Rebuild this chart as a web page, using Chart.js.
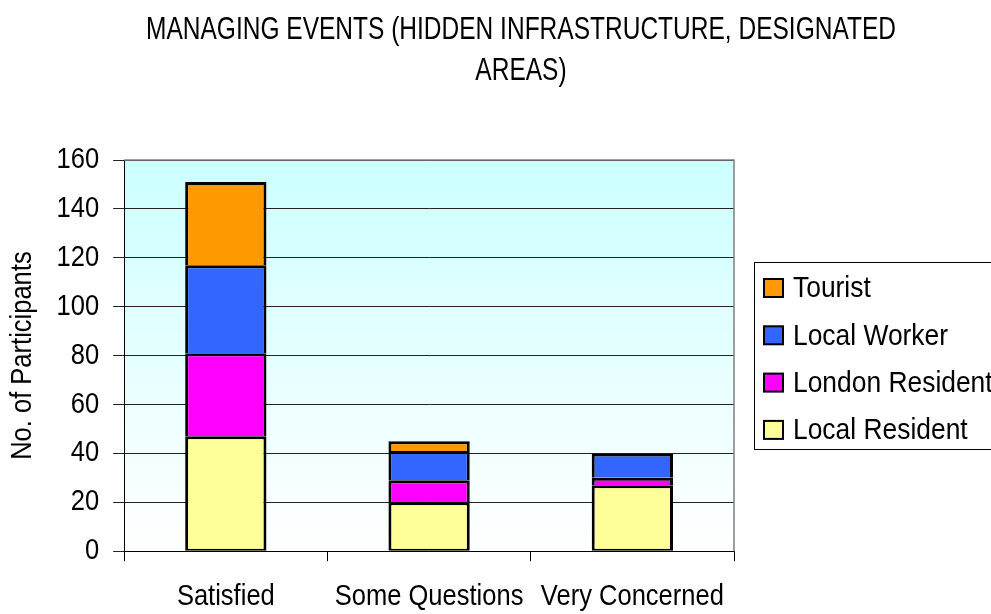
<!DOCTYPE html>
<html>
<head>
<meta charset="utf-8">
<style>
  html, body { margin: 0; padding: 0; background: #fff; overflow: hidden; }
  #wrap { width: 991px; height: 614px; }
</style>
</head>
<body>
<div id="wrap">
  <canvas id="eventsChart" width="991" height="614"></canvas>
</div>

<script src="https://cdn.jsdelivr.net/npm/chart.js"></script>

<script>
  // chart data
  const categories = ['Satisfied', 'Some Questions', 'Very Concerned'];
  const seriesNames = ['Local Resident', 'London Resident', 'Local Worker', 'Tourist'];
  const localResident = [47, 20, 27];
  const londonResident = [34, 9, 3];
  const localWorker = [36, 12, 10];
  const tourist = [34, 4, 0];
  const yTicks = [0, 20, 40, 60, 80, 100, 120, 140, 160];
  const titleLines = ['MANAGING EVENTS (HIDDEN INFRASTRUCTURE, DESIGNATED', 'AREAS)'];

  const seriesColors = ['#FFFF99', '#FF00FF', '#3366FF', '#FF9900'];
  const FONT = "'Liberation Sans', Arial, sans-serif";
  const NARROW = 0.88; // no Arial Narrow here, so squeeze text horizontally

  const canvas = document.getElementById('eventsChart');
  const ctx = canvas.getContext('2d');
  const rawFillText = ctx.fillText.bind(ctx);
  ctx.fillText = function (text, x, y, maxWidth) {
    const w = this.measureText(text).width * NARROW;
    rawFillText(text, x, y, maxWidth === undefined ? w : Math.min(w, maxWidth));
  };

  // plot area: light cyan fading to white, grey frame on top and right
  const plotBackground = {
    id: 'plotBackground',
    beforeDraw(chart) {
      const { ctx, chartArea: a } = chart;
      const g = ctx.createLinearGradient(0, a.top, 0, a.bottom);
      g.addColorStop(0, '#CCFFFF');
      g.addColorStop(1, '#FFFFFF');
      ctx.save();
      ctx.fillStyle = g;
      ctx.fillRect(a.left, a.top, a.right - a.left, a.bottom - a.top);
      ctx.restore();
    },
    afterDatasetsDraw(chart) {
      const { ctx, chartArea: a } = chart;
      ctx.save();
      ctx.strokeStyle = '#808080';
      ctx.lineWidth = 1.5;
      ctx.beginPath();
      ctx.moveTo(a.left, a.top);
      ctx.lineTo(a.right, a.top);
      ctx.lineTo(a.right, a.bottom);
      ctx.stroke();
      ctx.restore();
    }
  };

  // two-line title, centred a little right of the canvas middle like the original
  const chartTitle = {
    id: 'chartTitle',
    afterDraw(chart) {
      const c = chart.ctx;
      c.save();
      c.font = '32px ' + FONT;
      c.fillStyle = '#000';
      c.textAlign = 'center';
      c.textBaseline = 'middle';
      const squeeze = 750 / c.measureText(titleLines[0]).width;
      titleLines.forEach((line, i) => {
        c.fillText(line, 521, 30 + i * 41.5, c.measureText(line).width * squeeze);
      });
      c.restore();
    }
  };

  // boxed legend to the right, reversed order (Tourist first)
  const boxLegend = {
    id: 'boxLegend',
    afterDraw(chart) {
      const { ctx: c, chartArea: a } = chart;
      const sets = chart.data.datasets.slice().reverse();
      const rowH = 47.3;
      const left = a.right + 20;
      const top = 262;
      c.save();
      c.strokeStyle = '#000';
      c.lineWidth = 1;
      c.strokeRect(left + 0.5, top + 0.5, 400, 187);
      c.font = '30px ' + FONT;
      c.textBaseline = 'middle';
      sets.forEach((ds, i) => {
        const cy = top + 26 + rowH * i;
        c.fillStyle = ds.backgroundColor;
        c.fillRect(left + 10, cy - 9, 19, 18);
        c.lineWidth = 2;
        c.strokeStyle = '#000';
        c.strokeRect(left + 10, cy - 9, 19, 18);
        c.fillStyle = '#000';
        c.fillText(ds.label, left + 39, cy + 1);
      });
      c.restore();
    }
  };

  const datasets = [localResident, londonResident, localWorker, tourist].map((vals, i) => ({
    label: seriesNames[i],
    data: vals,
    backgroundColor: seriesColors[i],
    borderColor: '#000000',
    borderWidth: { top: 3, left: 3, right: 3, bottom: i === 0 ? 2 : 0 },
    borderSkipped: false,
    inflateAmount: 0,
    barPercentage: 0.4,
    categoryPercentage: 1.0
  }));

  new Chart(ctx, {
    type: 'bar',
    data: { labels: categories, datasets: datasets },
    options: {
      responsive: false,
      animation: false,
      // tick padding counts twice in Chart.js axis sizes, hence the negative values
      layout: { padding: { left: 6, right: 257, top: 160, bottom: -18 } },
      plugins: {
        legend: { display: false },
        tooltip: { enabled: false },
        title: { display: false }
      },
      scales: {
        x: {
          stacked: true,
          offset: true,
          grid: { display: true, drawOnChartArea: false, tickLength: 10, color: '#000', offset: true },
          border: { display: true, color: '#000', width: 1 },
          ticks: { color: '#000', font: { family: FONT, size: 29 }, padding: 18, maxRotation: 0, autoSkip: false }
        },
        y: {
          stacked: true,
          min: yTicks[0],
          max: yTicks[yTicks.length - 1],
          afterBuildTicks: axis => { axis.ticks = yTicks.map(v => ({ value: v })); },
          grid: { color: '#222222', tickLength: 11, lineWidth: 1 },
          border: { display: true, color: '#000', width: 1 },
          ticks: { color: '#000', font: { family: FONT, size: 29 }, padding: 14 },
          title: {
            display: true,
            text: 'No. of Participants',
            color: '#000',
            font: { family: FONT, size: 29 },
            padding: { top: 0, bottom: -4 }
          }
        }
      }
    },
    plugins: [plotBackground, chartTitle, boxLegend]
  });
</script>
</body>
</html>
